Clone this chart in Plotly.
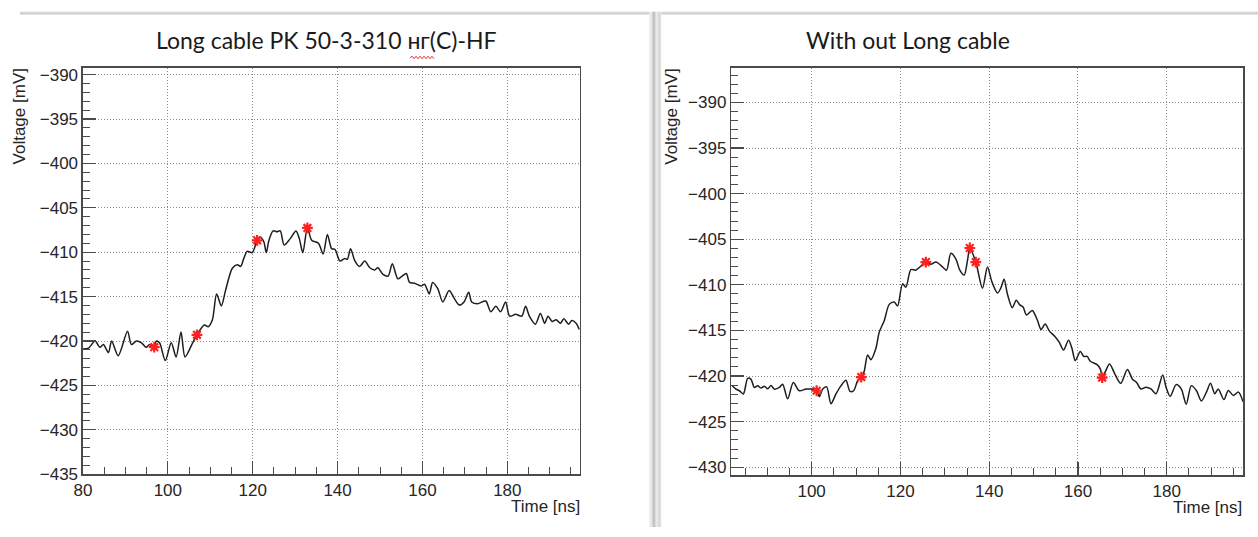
import plotly.graph_objects as go

# ---------------- data ----------------
left_title = "Long cable PK 50-3-310 нг(C)-HF"
right_title = "With out Long cable"
x_title = "Time [ns]"
y_title = "Voltage [mV]"

left_t = [80.0, 81.3, 82.85, 84.0, 84.8, 86.0, 86.75, 88.3, 90.5, 91.4, 92.6, 93.8, 94.9, 95.7,
          96.7, 97.3, 98.05, 99.4, 100.8, 101.95, 103.1, 104.05, 105.85, 106.86, 108.6, 109.5,
          110.5, 111.5, 112.6, 113.6, 115.2, 116.4, 117.15, 117.9, 118.7, 119.9, 121.04, 121.7,
          122.6, 123.2, 123.8, 124.8, 125.7, 126.5, 127.4, 128.8, 130.2, 131.0, 131.8, 132.89,
          133.9, 135.5, 136.6, 137.6, 138.6, 139.4, 140.55, 141.7, 142.3, 143.05, 144.1, 145.2,
          146.4, 147.6, 148.75, 149.5, 150.7, 151.9, 152.9, 154.2, 155.2, 156.2, 156.95, 158.1,
          159.7, 160.5, 161.6, 162.4, 163.6, 164.8, 166.3, 167.5, 168.7, 169.8, 170.9, 171.6,
          173.0, 174.9, 176.1, 177.3, 178.4, 179.6, 180.55, 181.95, 183.4, 184.3, 185.2, 186.6,
          187.8, 188.8, 189.6, 190.55, 191.5, 192.5, 193.3, 194.45, 195.2, 196.2, 196.95]
left_v = [-420.9, -420.8, -420.0, -420.7, -420.4, -421.3, -420.0, -421.65, -418.9, -420.4, -420.0,
          -420.2, -420.7, -420.4, -420.7, -420.0, -420.2, -422.2, -420.2, -421.8, -419.0, -421.8,
          -420.2, -419.3, -418.2, -418.4, -417.6, -414.7, -416.05, -414.3, -411.8, -411.4, -411.6,
          -410.7, -409.9, -410.05, -408.66, -408.3, -408.8, -410.05, -408.7, -407.6, -407.7,
          -407.6, -409.2, -408.5, -407.6, -408.5, -410.05, -407.27,
          -408.65, -409.0, -410.2, -408.0, -409.6, -409.7, -411.0, -410.7, -410.8, -409.6, -411.0,
          -411.6, -411.0, -411.75, -412.0, -411.75, -412.5, -412.7, -411.3, -413.0, -412.7, -412.4,
          -413.4, -413.5, -413.8, -413.6, -414.7, -413.4, -414.1, -415.6, -414.3, -415.2, -415.95,
          -415.6, -414.5, -415.6, -415.8, -415.5, -416.7, -416.1, -416.7, -415.6, -417.2, -417.0,
          -417.2, -416.1, -417.2, -418.1, -416.9, -418.0, -417.2, -417.8, -417.6, -418.0, -417.5,
          -418.1, -417.7, -418.0, -418.7]
left_mark_t = [96.8, 106.86, 121.04, 132.89]
left_mark_v = [-420.7, -419.3, -408.66, -407.27]

right_t = [82.0, 82.97, 83.72, 84.62, 85.6, 86.35, 87.1, 87.85, 88.6, 89.35, 90.1, 90.85, 91.6,
           92.72, 93.47, 94.6, 95.87, 97.22, 98.72, 100.08, 101.13, 101.73, 102.48, 103.38,
           104.35, 105.48, 106.6, 107.73, 108.63, 109.45, 110.35, 111.18, 111.85, 112.6, 113.35,
           114.48, 115.23, 116.35, 117.48, 118.6, 119.35, 120.48, 121.23, 122.36, 123.48, 124.38,
           125.73, 126.86, 127.98, 129.11, 130.38, 131.36, 132.48, 133.38, 134.36, 135.11, 135.63,
           136.98, 138.48, 139.61, 140.59, 141.86, 142.61, 143.36, 144.1, 145.2, 146.1, 146.9,
           147.6, 148.4, 149.7, 150.8, 151.7, 152.6, 153.6, 154.7, 155.8, 156.74, 157.88, 158.64,
           159.39, 160.53, 161.29, 162.05, 162.8, 164.32, 165.08, 165.45, 166.21, 167.12, 168.33,
           169.62, 171.14, 172.27, 173.18, 174.17, 175.3, 176.44, 177.58, 179.09, 179.85, 180.76,
           182.12, 183.26, 184.39, 185.53, 186.67, 187.8, 188.94, 189.85, 190.83, 191.59, 192.88,
           193.86, 195.0, 196.14, 197.2]
right_v = [-421.0, -421.43, -421.61, -421.96, -420.25, -420.36, -421.25, -421.07, -421.32, -421.11,
           -421.39, -421.04, -421.43, -421.25, -420.89, -422.5, -420.71, -421.61, -421.43, -421.43,
           -421.61, -422.25, -421.43, -421.18, -423.04, -421.96, -421.07, -420.46, -421.68, -421.61,
           -420.54, -420.11, -419.46, -417.68, -418.21, -416.96, -415.18, -413.93, -412.14, -411.89,
           -412.32, -409.89, -410.25, -408.32, -408.39, -408.04, -407.5, -407.75, -407.5, -407.86,
           -408.39, -406.54, -407.14, -408.39, -408.93, -407.32, -405.96, -407.5, -410.36, -408.04,
           -409.64, -410.89, -410.36, -409.39, -411.0, -412.5, -411.7, -412.2, -412.4, -413.3,
           -412.8, -413.8, -414.9, -414.3, -415.1, -415.6, -416.3, -417.14, -416.07, -416.96,
           -418.31, -417.31, -417.85, -417.85, -418.38, -418.74, -419.27, -420.16, -419.45, -418.67,
           -419.8, -420.8, -419.27, -420.34, -420.69, -421.41, -421.23, -421.41, -421.94, -419.88,
           -421.23, -422.22, -420.94, -421.41, -423.08, -421.05, -421.58, -422.72, -421.76, -420.8,
           -421.94, -421.41, -422.58, -421.58, -422.12, -421.76, -422.83]
right_mark_t = [101.13, 111.18, 125.73, 135.63, 136.98, 165.45]
right_mark_v = [-421.61, -420.11, -407.5, -405.96, -407.5, -420.16]

x_ticks_left = [80, 100, 120, 140, 160, 180]
x_ticks_right = [100, 120, 140, 160, 180]

# ---------------- layout helpers ----------------
W, H = 1258, 537


def px(x):
    return x / W


def py(y):
    return 1 - y / H


TICK_FONT = dict(family="Liberation Sans, Arial, sans-serif", size=17, color="#262626")
FRAME = "#4a4a4a"
GRID = "#8c8c8c"

fig = go.Figure()

line_style = dict(color="#1e1e1e", width=1.5, shape="spline", smoothing=0.8)
mark_style = dict(symbol="asterisk-open", size=9, color="#ff2020",
                  line=dict(color="#ff2020", width=2.2))

fig.add_trace(go.Scatter(x=left_t, y=left_v, mode="lines", line=line_style,
                         xaxis="x", yaxis="y", showlegend=False, hoverinfo="skip"))
fig.add_trace(go.Scatter(x=left_mark_t, y=left_mark_v, mode="markers", marker=mark_style,
                         xaxis="x", yaxis="y", showlegend=False))
fig.add_trace(go.Scatter(x=right_t, y=right_v, mode="lines", line=line_style,
                         xaxis="x2", yaxis="y2", showlegend=False, hoverinfo="skip"))
fig.add_trace(go.Scatter(x=right_mark_t, y=right_mark_v, mode="markers", marker=mark_style,
                         xaxis="x2", yaxis="y2", showlegend=False))


def axis_common(minor_dtick):
    return dict(
        showline=True, linecolor=FRAME, linewidth=1.5, mirror=True,
        ticks="inside", ticklen=13, tickwidth=1.2, tickcolor=FRAME,
        showgrid=True, gridcolor=GRID, gridwidth=1, griddash="1px,2px",
        zeroline=False, tickfont=TICK_FONT,
        minor=dict(ticks="inside", ticklen=7, tickwidth=1, tickcolor=FRAME,
                   dtick=minor_dtick, tick0=0, showgrid=False),
        fixedrange=True,
    )


fig.update_layout(
    width=W, height=H,
    margin=dict(l=0, r=0, t=0, b=0),
    paper_bgcolor="white", plot_bgcolor="white",
    xaxis=dict(domain=[px(74.5), px(575)], range=[80, 197.1], anchor="y",
               tickvals=x_ticks_left, **axis_common(5)),
    yaxis=dict(domain=[py(483), py(67)], range=[-435, -389.2], anchor="x",
               dtick=5, tick0=0, **axis_common(1)),
    xaxis2=dict(domain=[px(727.5), px(1243)], range=[81.9, 197.2], anchor="y2",
                tickvals=x_ticks_right, **axis_common(5)),
    yaxis2=dict(domain=[py(484.3), py(67.3)], range=[-430.9, -386.2], anchor="x2",
                dtick=5, tick0=0, **axis_common(1)),
)

# ---------------- decorations (slide frame) ----------------
shapes = []
shapes.append(dict(type="line", xref="paper", yref="paper", x0=px(11), x1=px(645),
                   y0=py(11.5), y1=py(11.5), line=dict(color="#d4d4d4", width=3)))
shapes.append(dict(type="line", xref="paper", yref="paper", x0=px(657), x1=px(1258),
                   y0=py(11.5), y1=py(11.5), line=dict(color="#d4d4d4", width=3)))
shapes.append(dict(type="rect", xref="paper", yref="paper", x0=px(645), x1=px(657),
                   y0=py(537), y1=py(10), line=dict(width=0), fillcolor="#e8e8e8"))
shapes.append(dict(type="rect", xref="paper", yref="paper", x0=px(648), x1=px(651),
                   y0=py(537), y1=py(10), line=dict(width=0), fillcolor="#c4c4c4"))
shapes.append(dict(type="rect", xref="paper", yref="paper", x0=px(654), x1=px(656),
                   y0=py(537), y1=py(10), line=dict(width=0), fillcolor="#d6d6d6"))
path = "M {} {}".format(px(404), py(57))
xx = 404
up = True
while xx < 428:
    xx += 2
    path += " L {} {}".format(px(xx), py(55.5 if up else 58))
    up = not up
shapes.append(dict(type="path", xref="paper", yref="paper", path=path,
                   line=dict(color="#e03030", width=1)))
fig.update_layout(shapes=shapes)

TITLE_FONT = dict(family="Lato, Carlito, 'Open Sans', sans-serif", size=23, color="#1a1a1a")
LABEL_FONT = dict(family="Liberation Sans, Arial, sans-serif", size=17, color="#262626")

ann = [
    dict(text=left_title, x=px(319.5), y=py(39), xref="paper", yref="paper",
         showarrow=False, font=TITLE_FONT, xanchor="center", yanchor="middle"),
    dict(text=right_title, x=px(905), y=py(39), xref="paper", yref="paper",
         showarrow=False, font=TITLE_FONT, xanchor="center", yanchor="middle"),
    dict(text=x_title, x=px(577), y=py(516), xref="paper", yref="paper",
         showarrow=False, font=LABEL_FONT, xanchor="right", yanchor="middle"),
    dict(text=x_title, x=px(1244), y=py(517), xref="paper", yref="paper",
         showarrow=False, font=LABEL_FONT, xanchor="right", yanchor="middle"),
    dict(text=y_title, x=px(11), y=py(66), xref="paper", yref="paper", textangle=-90,
         showarrow=False, font=LABEL_FONT, xanchor="center", yanchor="top"),
    dict(text=y_title, x=px(667), y=py(66), xref="paper", yref="paper", textangle=-90,
         showarrow=False, font=LABEL_FONT, xanchor="center", yanchor="top"),
]
fig.update_layout(annotations=ann)

fig.write_html(
    "out.html",
    config={"displayModeBar": False, "staticPlot": True},
    post_script="document.documentElement.style.margin='0';"
                "document.body.style.margin='0';document.body.style.padding='0';"
                "document.body.style.overflow='hidden';",
)
